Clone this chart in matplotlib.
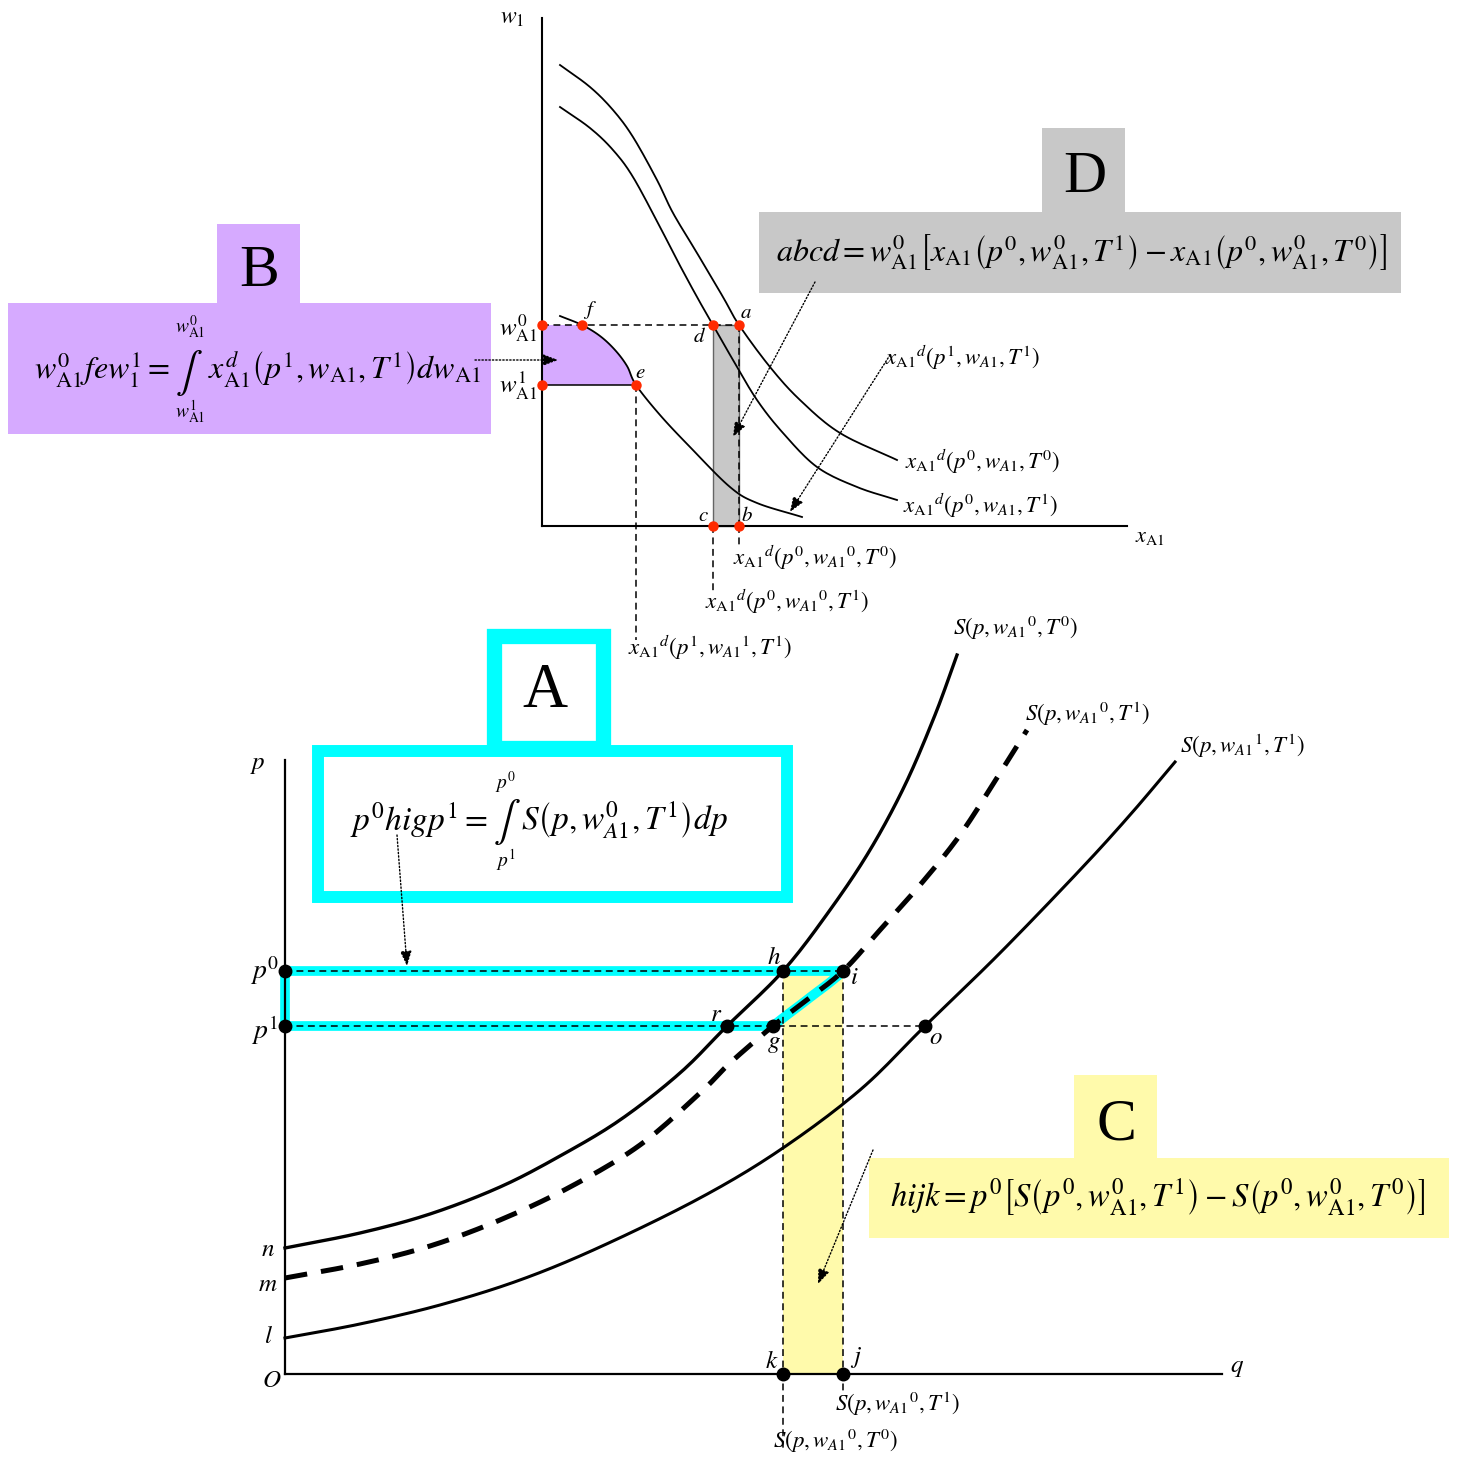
import numpy as np
import matplotlib.pyplot as plt
from matplotlib.patches import Rectangle, Polygon

plt.rcParams['font.family'] = ['Liberation Serif', 'DejaVu Serif']
plt.rcParams['mathtext.fontset'] = 'stix'

# ---- top panel: input demand x_A1 against wage w_1 (picture units, y down)
dem_T0_x = [560, 590, 613, 633, 657, 673, 697, 723, 739, 770, 800, 840, 897]
dem_T0_y = [65, 87, 110, 137, 180, 213, 253, 297, 325, 367, 400, 433, 460]
dem_T1_x = [560, 590, 613, 633, 660, 677, 697, 713, 733, 757, 783, 817, 857, 897]
dem_T1_y = [107, 128, 150, 177, 227, 260, 297, 325, 360, 400, 433, 467, 487, 500]
dem_p1_x = [560, 582, 600, 615, 627, 636, 660, 690, 730, 757, 802]
dem_p1_y = [316, 325, 336, 350, 366, 385, 415, 447, 487, 503, 517]

top_origin = (542, 526)
top_ymax = 18
top_xmax = 1127
w0_level = 325
w1_level = 385
x_f, x_e = 582, 636
x_d, x_a = 713, 739

# ---- bottom panel: supply S(p, w, T)
sup_T0_x = [285, 360, 430, 500, 560, 620, 680, 727, 783, 830, 870, 905, 935, 957]
sup_T0_y = [1248, 1233, 1214, 1187, 1156, 1120, 1073, 1026, 971, 910, 850, 785, 715, 655]
sup_T1_x = [285, 360, 430, 500, 570, 640, 700, 730, 773, 808, 843, 880, 920, 960, 1000, 1027]
sup_T1_y = [1278, 1264, 1246, 1220, 1187, 1145, 1093, 1063, 1026, 999, 971, 930, 885, 835, 773, 730]
sup_w1_x = [285, 360, 440, 520, 600, 700, 780, 860, 925, 1000, 1080, 1130, 1175]
sup_w1_y = [1338, 1324, 1305, 1280, 1247, 1198, 1150, 1090, 1026, 953, 870, 815, 762]

bot_origin = (285, 1374)
bot_ymax = 760
bot_xmax = 1222
p0_level = 971
p1_level = 1026
q_r, q_g, q_h, q_i, q_o = 727, 773, 783, 843, 925

CYAN = '#00ffff'
PURPLE = '#d6aaff'
GREY = '#c8c8c8'
YELLOW = '#fffaab'
RED = '#ff2a00'

fig = plt.figure(figsize=(14.58, 14.58), dpi=100)
ax = fig.add_axes([0, 0, 1, 1])
ax.set_xlim(0, 1458)
ax.set_ylim(1458, 0)
ax.axis('off')


def smooth(xs, ys, n=12):
    # catmull-rom through the read points, only to draw a round line
    p = np.column_stack([xs, ys]).astype(float)
    p = np.vstack([2 * p[0] - p[1], p, 2 * p[-1] - p[-2]])
    out = []
    t = np.linspace(0, 1, n, endpoint=False)[:, None]
    for k in range(1, len(p) - 2):
        p0, p1, p2, p3 = p[k - 1], p[k], p[k + 1], p[k + 2]
        seg = 0.5 * ((2 * p1) + (-p0 + p2) * t + (2 * p0 - 5 * p1 + 4 * p2 - p3) * t ** 2
                     + (-p0 + 3 * p1 - 3 * p2 + p3) * t ** 3)
        out.append(seg)
    out.append(p[-2][None, :])
    out = np.vstack(out)
    return out[:, 0], out[:, 1]


def dotted_arrow(x0, y0, x1, y1):
    ax.annotate('', xy=(x1, y1), xytext=(x0, y0),
                arrowprops=dict(arrowstyle='-|>,head_length=0.9,head_width=0.35',
                                lw=1.0, ls=(0, (1, 1.5)), color='black',
                                shrinkA=0, shrinkB=0))


def ldashed(xs, ys, **kw):
    ax.plot(xs, ys, color='black', lw=1.1, dashes=(4.5, 3), **kw)


# ================= top panel =================
px, py = smooth(dem_p1_x, dem_p1_y)
sel = (py >= w0_level) & (py <= w1_level)
poly = [(top_origin[0], w0_level)] + list(zip(px[sel], py[sel])) + [(x_e, w1_level), (top_origin[0], w1_level)]
ax.add_patch(Polygon(poly, closed=True, facecolor=PURPLE, edgecolor='none', zorder=1))
ax.add_patch(Rectangle((x_d, w0_level), x_a - x_d, top_origin[1] - w0_level,
                       facecolor=GREY, edgecolor='#666666', lw=1.0, zorder=1))

ax.plot([top_origin[0], top_origin[0]], [top_ymax, top_origin[1]], color='black', lw=1.5)
ax.plot([top_origin[0], top_xmax], [top_origin[1], top_origin[1]], color='black', lw=1.5)

ax.plot(*smooth(dem_T0_x, dem_T0_y), color='black', lw=1.3)
ax.plot(*smooth(dem_T1_x, dem_T1_y), color='black', lw=1.3)
ax.plot(px, py, color='black', lw=1.3)

ldashed([top_origin[0], x_a], [w0_level, w0_level])
ax.plot([top_origin[0], x_e], [w1_level, w1_level], color='black', lw=1.1)
ldashed([x_e, x_e], [w1_level, 640])
ldashed([x_d, x_d], [top_origin[1], 592])
ldashed([x_a, x_a], [top_origin[1], 548])
ldashed([x_a, x_a], [w0_level, top_origin[1]])

ax.plot([top_origin[0], x_f, x_d, x_a, top_origin[0], x_e, x_d, x_a],
        [w0_level, w0_level, w0_level, w0_level, w1_level, w1_level, top_origin[1], top_origin[1]],
        'o', color=RED, ms=6.5, zorder=5)

ax.text(512, 18, r'$w_{1}$', fontsize=17, ha='center', va='center')
ax.text(1150, 537, r'$x_{\mathrm{A1}}$', fontsize=16, ha='center', va='center')
ax.text(518, 328, r'$w^{0}_{\mathrm{A1}}$', fontsize=18, ha='center', va='center')
ax.text(518, 386, r'$w^{1}_{\mathrm{A1}}$', fontsize=18, ha='center', va='center')
for lbl, x, y in [('f', 590, 310), ('e', 640, 373), ('d', 700, 337),
                  ('a', 746, 313), ('c', 703, 516), ('b', 747, 516)]:
    ax.text(x, y, '$' + lbl + '$', fontsize=15, ha='center', va='center')

xl = r'x_{\mathrm{A1}}{}^{d}'
ax.text(885, 358, '$' + xl + r'(p^{1},w_{A1},T^{1})$', fontsize=16.5, ha='left', va='center')
ax.text(905, 462, '$' + xl + r'(p^{0},w_{A1},T^{0})$', fontsize=16.5, ha='left', va='center')
ax.text(903, 506, '$' + xl + r'(p^{0},w_{A1},T^{1})$', fontsize=16.5, ha='left', va='center')
ax.text(733, 558, '$' + xl + r'(p^{0},w_{A1}{}^{0},T^{0})$', fontsize=16.5, ha='left', va='center')
ax.text(705, 602, '$' + xl + r'(p^{0},w_{A1}{}^{0},T^{1})$', fontsize=16.5, ha='left', va='center')
ax.text(628, 648, '$' + xl + r'(p^{1},w_{A1}{}^{1},T^{1})$', fontsize=16.5, ha='left', va='center')

dotted_arrow(815, 282, 733, 437)
dotted_arrow(890, 355, 790, 512)
dotted_arrow(475, 360, 558, 360)

# box B
ax.add_patch(Rectangle((217, 224), 83, 80, facecolor=PURPLE, edgecolor='none'))
ax.add_patch(Rectangle((8, 303), 483, 131, facecolor=PURPLE, edgecolor='none'))
ax.text(259, 272, 'B', fontsize=43, ha='center', va='center')
ax.text(170, 370, r'$w^{0}_{\mathrm{A1}}few^{1}_{1}=$', fontsize=23, ha='right', va='center')
ax.text(189, 373, r'$\int$', fontsize=29, ha='center', va='center')
ax.text(190, 327, r'$w^{0}_{\mathrm{A1}}$', fontsize=14, ha='center', va='center')
ax.text(190, 412, r'$w^{1}_{\mathrm{A1}}$', fontsize=14, ha='center', va='center')
ax.text(208, 370, r'$x^{d}_{\mathrm{A1}}\left(p^{1},w_{\mathrm{A1}},T^{1}\right)dw_{\mathrm{A1}}$',
        fontsize=23, ha='left', va='center')

# box D
ax.add_patch(Rectangle((1042, 128), 83, 85, facecolor=GREY, edgecolor='none'))
ax.add_patch(Rectangle((759, 212), 642, 81, facecolor=GREY, edgecolor='none'))
ax.text(1085, 178, 'D', fontsize=43, ha='center', va='center')
ax.text(1082, 252, r'$abcd=w^{0}_{\mathrm{A1}}\left[x_{\mathrm{A1}}\left(p^{0},w^{0}_{\mathrm{A1}},T^{1}\right)'
        r'-x_{\mathrm{A1}}\left(p^{0},w^{0}_{\mathrm{A1}},T^{0}\right)\right]$',
        fontsize=23, ha='center', va='center')

# ================= bottom panel =================
ax.add_patch(Rectangle((q_h, p0_level), q_i - q_h, bot_origin[1] - p0_level,
                       facecolor=YELLOW, edgecolor='none', zorder=1))

tx, ty = smooth(sup_T1_x, sup_T1_y)
sel = (ty >= p0_level) & (ty <= p1_level)
seg = sorted(zip(tx[sel], ty[sel]), key=lambda t: t[1])
cyan_poly = [(bot_origin[0], p0_level), (q_i, p0_level)] + seg + [(q_g, p1_level), (bot_origin[0], p1_level)]
ax.add_patch(Polygon(cyan_poly, closed=True, facecolor='none', edgecolor=CYAN,
                     lw=7, joinstyle='round', zorder=2))

ax.plot([bot_origin[0], bot_origin[0]], [bot_ymax, bot_origin[1]], color='black', lw=1.6, zorder=3)
ax.plot([bot_origin[0], bot_xmax], [bot_origin[1], bot_origin[1]], color='black', lw=1.6, zorder=3)

ax.plot(*smooth(sup_T0_x, sup_T0_y), color='black', lw=2.4, zorder=3)
ax.plot(tx, ty, color='black', lw=3.6, dashes=(4.5, 2.8), zorder=3)
ax.plot(*smooth(sup_w1_x, sup_w1_y), color='black', lw=2.2, zorder=3)

ldashed([bot_origin[0], q_i], [p0_level, p0_level], zorder=4)
ldashed([bot_origin[0], q_o], [p1_level, p1_level], zorder=4)
ldashed([q_h, q_h], [p0_level, 1452], zorder=4)
ldashed([q_i, q_i], [p0_level, 1393], zorder=4)

ax.plot([bot_origin[0], bot_origin[0], q_h, q_i, q_r, q_g, q_o, q_h, q_i],
        [p0_level, p1_level, p0_level, p0_level, p1_level, p1_level, p1_level,
         bot_origin[1], bot_origin[1]],
        'o', color='black', ms=9, zorder=5)

ax.text(258, 765, '$p$', fontsize=18, ha='center', va='center')
ax.text(1237, 1368, '$q$', fontsize=18, ha='center', va='center')
ax.text(272, 1381, '$O$', fontsize=18, ha='center', va='center')
ax.text(265, 971, '$p^{0}$', fontsize=20, ha='center', va='center')
ax.text(265, 1030, '$p^{1}$', fontsize=20, ha='center', va='center')
for lbl, x, y in [('n', 268, 1250), ('m', 268, 1285), ('l', 268, 1337),
                  ('h', 774, 958), ('i', 854, 978), ('r', 716, 1015), ('g', 774, 1044),
                  ('o', 936, 1038), ('k', 772, 1362), ('j', 856, 1357)]:
    ax.text(x, y, '$' + lbl + '$', fontsize=18, ha='center', va='center')

ax.text(953, 628, r'$S(p,w_{A1}{}^{0},T^{0})$', fontsize=16.5, ha='left', va='center')
ax.text(1025, 714, r'$S(p,w_{A1}{}^{0},T^{1})$', fontsize=16.5, ha='left', va='center')
ax.text(1180, 746, r'$S(p,w_{A1}{}^{1},T^{1})$', fontsize=16.5, ha='left', va='center')
ax.text(835, 1404, r'$S(p,w_{A1}{}^{0},T^{1})$', fontsize=16.5, ha='left', va='center')
ax.text(773, 1441, r'$S(p,w_{A1}{}^{0},T^{0})$', fontsize=16.5, ha='left', va='center')

dotted_arrow(397, 835, 407, 966)
dotted_arrow(873, 1150, 818, 1284)

# box A
ax.add_patch(Rectangle((494.5, 635.5), 109, 112, facecolor='white', edgecolor=CYAN, lw=11))
ax.add_patch(Rectangle((318, 751), 469, 146, facecolor='white', edgecolor=CYAN, lw=8.6))
ax.add_patch(Rectangle((503, 742), 92, 9, facecolor=CYAN, edgecolor='none'))
ax.text(545, 692, 'A', fontsize=45, ha='center', va='center')
ax.text(488, 820, r'$p^{0}higp^{1}=$', fontsize=24, ha='right', va='center')
ax.text(507, 822, r'$\int$', fontsize=29, ha='center', va='center')
ax.text(506, 783, '$p^{0}$', fontsize=14, ha='center', va='center')
ax.text(506, 860, '$p^{1}$', fontsize=14, ha='center', va='center')
ax.text(521, 820, r'$S\left(p,w^{0}_{A1},T^{1}\right)dp$', fontsize=24, ha='left', va='center')

# box C
ax.add_patch(Rectangle((1074, 1075), 83, 84, facecolor=YELLOW, edgecolor='none'))
ax.add_patch(Rectangle((869, 1158), 580, 80, facecolor=YELLOW, edgecolor='none'))
ax.text(1116, 1125, 'C', fontsize=43, ha='center', va='center')
ax.text(1158, 1197, r'$hijk=p^{0}\left[S\left(p^{0},w^{0}_{\mathrm{A1}},T^{1}\right)'
        r'-S\left(p^{0},w^{0}_{\mathrm{A1}},T^{0}\right)\right]$',
        fontsize=23.5, ha='center', va='center')

fig.savefig('out.png', dpi=100)
